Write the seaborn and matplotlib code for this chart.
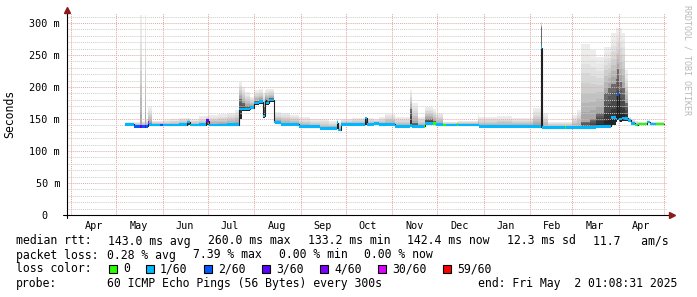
import numpy as np
import pandas as pd
import matplotlib
matplotlib.use("Agg")
import matplotlib.pyplot as plt
import matplotlib.dates as mdates
from matplotlib.patches import Rectangle
from matplotlib.transforms import ScaledTranslation
import seaborn as sns

# ---------------- data ----------------
seg_start = [
    "2024-05-07", "2024-05-13", "2024-05-17", "2024-05-18", "2024-05-20", "2024-05-21",
    "2024-05-22", "2024-05-23", "2024-05-25", "2024-05-30", "2024-06-01", "2024-06-06",
    "2024-06-12", "2024-06-17", "2024-06-19", "2024-06-25", "2024-06-30", "2024-07-02",
    "2024-07-08", "2024-07-14", "2024-07-19", "2024-07-22", "2024-07-24", "2024-07-26",
    "2024-07-29", "2024-08-01", "2024-08-04", "2024-08-07", "2024-08-08", "2024-08-09",
    "2024-08-11", "2024-08-14", "2024-08-15", "2024-08-19", "2024-08-25", "2024-08-31",
    "2024-09-07", "2024-09-14", "2024-09-20", "2024-09-25", "2024-09-26", "2024-09-28",
    "2024-10-05", "2024-10-14", "2024-10-15", "2024-10-20", "2024-10-23", "2024-10-27",
    "2024-11-03", "2024-11-13", "2024-11-14", "2024-11-18", "2024-11-22", "2024-11-23",
    "2024-11-28", "2024-11-30", "2024-12-05", "2024-12-07", "2024-12-14", "2024-12-15",
    "2024-12-28", "2024-12-29", "2025-01-10", "2025-01-20", "2025-02-03", "2025-02-08",
    "2025-02-09", "2025-02-13", "2025-02-24", "2025-02-25", "2025-03-01", "2025-03-04",
    "2025-03-07", "2025-03-13", "2025-03-17", "2025-03-22", "2025-03-25", "2025-03-27",
    "2025-03-30", "2025-03-31", "2025-04-01", "2025-04-03", "2025-04-05", "2025-04-07",
    "2025-04-09", "2025-04-12", "2025-04-13", "2025-04-14", "2025-04-20", "2025-04-22",
    "2025-04-26",
]
data_end = "2025-05-01"

median_ms = [
    141.7, 139.0, 139.0, 139.0, 139.0, 139.0,
    144.0, 141.0, 140.6, 140.6, 140.6, 140.6,
    141.0, 145.3, 140.6, 141.0, 147.0, 140.6,
    140.6, 141.0, 141.0, 165.6, 165.6, 165.6,
    167.7, 175.0, 177.0, 154.7, 179.7, 175.0,
    179.7, 145.3, 144.0, 141.7, 141.7, 138.0,
    138.0, 135.5, 135.5, 144.0, 132.8, 141.7,
    141.7, 151.6, 141.7, 143.3, 141.0, 141.7,
    139.0, 140.0, 139.0, 139.0, 139.0, 143.3,
    143.3, 141.0, 140.6, 140.6, 141.7, 140.6,
    140.6, 139.0, 139.0, 138.5, 138.0, 261.0,
    137.0, 137.0, 137.0, 137.0, 137.0, 137.0,
    137.0, 137.0, 139.0, 139.0, 139.0, 153.0,
    150.0, 189.0, 150.0, 151.6, 151.0, 148.0,
    143.3, 140.6, 140.6, 142.2, 145.3, 142.2,
    142.2,
]
smoke_lo_ms = [
    140, 137, 137, 137, 137, 137,
    140, 139, 139, 139, 139, 139,
    139, 140, 139, 139, 140, 139,
    139, 139, 139, 150, 163, 163,
    165, 172, 174, 152, 176, 172,
    176, 143, 142, 140, 140, 136,
    136, 134, 134, 134, 131, 140,
    140, 140, 140, 141, 139, 140,
    137, 137, 137, 137, 137, 141,
    141, 139, 139, 139, 140, 139,
    139, 137, 137, 137, 136, 138,
    135, 135, 135, 135, 135, 135,
    135, 135, 137, 137, 137, 140,
    145, 148, 146, 147, 147, 145,
    141, 139, 139, 140, 143, 140,
    140,
]
smoke_core_ms = [
    141.7, 139, 139, 139, 139, 139,
    144, 143, 140.6, 140.6, 140.6, 140.6,
    141, 145.3, 140.6, 141, 147, 141,
    141, 142, 143, 182, 175, 170,
    170, 178, 180, 168, 182, 180,
    183, 148, 146, 142, 142, 138,
    138, 135.5, 135.5, 144, 132.8, 141.7,
    141.7, 151.6, 141.7, 143.3, 141, 142,
    139, 166, 143, 139, 139, 150,
    147, 142, 140.6, 140.6, 141.7, 140.6,
    141, 139, 139, 139, 140, 294,
    137, 137, 137, 137, 137, 138,
    145, 150, 160, 190, 198, 205,
    212, 228, 208, 198, 175, 148,
    143.3, 140.6, 140.6, 142.2, 145.3, 142.2,
    142.2,
]
smoke_hi_ms = [
    145, 146, 312, 147, 312, 150,
    169, 169, 147, 147, 148, 150,
    152, 152, 150, 154, 155, 156,
    158, 160, 164, 208, 200, 192,
    184, 195, 197, 190, 195, 197,
    197, 165, 161, 160, 157, 153,
    150, 150, 147, 150, 145, 150,
    152, 153, 152, 150, 153, 158,
    153, 195, 175, 153, 153, 169,
    165, 160, 146, 146, 146, 147,
    156, 153, 154, 152, 167, 301,
    159, 146, 145, 146, 156, 164,
    267, 258, 247, 262, 262, 284,
    292, 292, 292, 284, 226, 153,
    150, 147, 147, 146, 148, 146,
    146,
]
loss_idx = [
    1, 2, 3, 2, 3, 2,
    5, 1, 1, 2, 1, 1,
    1, 1, 1, 1, 3, 1,
    1, 1, 1, 1, 1, 1,
    1, 1, 1, 1, 1, 1,
    1, 1, 1, 1, 1, 1,
    1, 1, 1, 1, 1, 1,
    1, 1, 1, 1, 1, 1,
    1, 1, 1, 1, 0, 1,
    0, 1, 0, 1, 0, 1,
    1, 1, 1, 1, 1, 1,
    1, 1, 0, 1, 1, 1,
    1, 1, 1, 1, 1, 1,
    1, 2, 1, 1, 1, 1,
    1, 0, 1, 0, 1, 1,
    0,
]

loss_labels = ["0", "1/60", "2/60", "3/60", "4/60", "30/60", "59/60"]
loss_colors = ["#26ff00", "#00b8ff", "#0059ff", "#5e00ff", "#7e00ff", "#dd00ff", "#ff0000"]

y_ticks = [0, 50, 100, 150, 200, 250, 300]
y_tick_labels = ["0", "50 m", "100 m", "150 m", "200 m", "250 m", "300 m"]

view_start = "2024-03-29 08:00"
view_end = "2025-05-03 08:00"

legend_rows = [
    [("median rtt:", 16), ("143.0 ms avg", 108), ("260.0 ms max", 208), ("133.2 ms min", 308),
     ("142.4 ms now", 407), ("12.3 ms sd", 507), ("11.7   am/s", 593)],
    [("packet loss:", 16), ("0.28 % avg", 107), ("7.39 % max", 193), ("0.00 % min", 279),
     ("0.00 % now", 364)],
    [("loss color:", 16)],
    [("probe:", 16), ("60 ICMP Echo Pings (56 Bytes) every 300s", 107),
     ("end: Fri May  2 01:08:31 2025", 478)],
]
legend_y = [241, 255, 269, 283.5]
loss_box_x = [109, 146, 204, 262, 320, 378, 443]

# ---------------- figure ----------------
sns.set_theme(style="white")
plt.rcParams["font.family"] = ["DejaVu Sans Mono", "DejaVu Sans"]

W, H = 697, 297
fig = plt.figure(figsize=(W / 100, H / 100), dpi=100)
fig.patch.set_facecolor("white")
ax = fig.add_axes([67 / W, (H - 215) / H, 600 / W, 202 / H])
ax.set_facecolor("white")

starts = mdates.date2num(pd.to_datetime(seg_start))
ends = np.append(starts[1:], mdates.date2num(pd.Timestamp(data_end)))
widths = ends - starts
med = np.array(median_ms)
lo = np.array(smoke_lo_ms, dtype=float)
core = np.array(smoke_core_ms, dtype=float)
hi = np.array(smoke_hi_ms, dtype=float)

# smoke: outer light layers (hi -> core), inner dark layers (core -> lo)
n_out = 8
for k in range(n_out):
    top = core + (hi - core) * (1 - k / n_out)
    g = 0.93 - 0.27 * (k / (n_out - 1)) ** 1.4
    ax.bar(starts, top - lo, bottom=lo, width=widths, align="edge",
           color=(g, g, g), linewidth=0, antialiased=False, zorder=1)
n_in = 5
for k in range(n_in):
    top = lo + (core - lo) * (1 - k / n_in)
    g = 0.42 - 0.27 * k / (n_in - 1)
    ax.bar(starts, top - lo, bottom=lo, width=widths, align="edge",
           color=(g, g, g), linewidth=0, antialiased=False, zorder=1.1)

# median black step line
xs = np.append(starts, ends[-1])
ys = np.append(med, med[-1])
sns.lineplot(x=xs, y=ys, ax=ax, color="#202020", linewidth=0.8,
             drawstyle="steps-post", estimator=None, sort=False, zorder=2.8)

# loss-coloured median band
half = 2.3
ax.bar(starts, 2 * half, bottom=med - half, width=widths, align="edge",
       color=[loss_colors[i] for i in loss_idx], linewidth=0, antialiased=False, zorder=3)

# axes limits / ticks
ax.set_xlim(mdates.date2num(pd.Timestamp(view_start)), mdates.date2num(pd.Timestamp(view_end)))
ax.set_ylim(0, 202 / 192 * 300)
ax.xaxis_date()
ax.xaxis.set_major_locator(mdates.MonthLocator())
ax.xaxis.set_major_formatter(matplotlib.ticker.NullFormatter())
ax.xaxis.set_minor_locator(mdates.MonthLocator(bymonthday=16))
ax.xaxis.set_minor_formatter(mdates.DateFormatter("%b"))
ax.set_yticks(y_ticks)
ax.set_yticklabels(y_tick_labels)
ax.set_yticks(np.arange(0, 316, 10), minor=True)

ax.tick_params(axis="x", which="minor", length=0, pad=4, labelsize=7.3, colors="black")
ax.tick_params(axis="x", which="major", length=2.2, width=0.7, direction="out", colors="black")
ax.tick_params(axis="y", which="major", length=2, width=0.7, direction="out", pad=3,
               labelsize=7.3, colors="black")
ax.tick_params(axis="y", which="minor", length=0)

ax.set_axisbelow(False)
ax.grid(True, which="minor", axis="y", color="#cccccc", linestyle=(0, (1, 1)), linewidth=0.7)
ax.grid(True, which="major", axis="y", color="#e4a8a8", linestyle=(0, (1, 1)), linewidth=0.7)
ax.grid(True, which="major", axis="x", color="#e6a0a0", linestyle=(0, (1, 1)), linewidth=0.7)

for lab in ax.get_yticklabels():
    if lab.get_text() == "0":
        lab.set_transform(lab.get_transform() + ScaledTranslation(-0.13, 0, fig.dpi_scale_trans))

for s in ax.spines.values():
    s.set_visible(False)

# axis lines with arrows
ax.plot([-4 / 600, 603 / 600], [0, 0], transform=ax.transAxes, color="black",
        linewidth=0.8, clip_on=False, zorder=4)
ax.plot([0, 0], [-3 / 202, 1 + 1 / 202], transform=ax.transAxes, color="black",
        linewidth=0.8, clip_on=False, zorder=4)
ax.plot([0], [1 + 3 / 202], marker="^", markersize=4, color="#8b1a1a",
        transform=ax.transAxes, clip_on=False, zorder=5)
ax.plot([1 + 5 / 600], [0], marker=">", markersize=4, color="#8b1a1a",
        transform=ax.transAxes, clip_on=False, zorder=5)

# y label and watermark
fig.text(10 / W, 1 - 114 / H, "Seconds", rotation=90, ha="center", va="center",
         fontsize=8.3, color="black")
fig.text(687.5 / W, 1 - 60 / H, "RRDTOOL / TOBI OETIKER", rotation=270, ha="center",
         va="center", fontsize=6, color="#b8b8b8")

# legend
for row, yy in zip(legend_rows, legend_y):
    for txt, xx in row:
        fig.text(xx / W, 1 - yy / H, txt, ha="left", va="center", fontsize=8.3, color="black")
for lbl, col, bx in zip(loss_labels, loss_colors, loss_box_x):
    fig.add_artist(Rectangle((bx / W, 1 - (legend_y[2] + 4) / H), 7.5 / W, 8 / H,
                             transform=fig.transFigure, facecolor=col, edgecolor="black",
                             linewidth=0.8))
    fig.text((bx + 14) / W, 1 - legend_y[2] / H, lbl, ha="left", va="center",
             fontsize=8.3, color="black")

fig.savefig("out.png", dpi=100, facecolor="white")
